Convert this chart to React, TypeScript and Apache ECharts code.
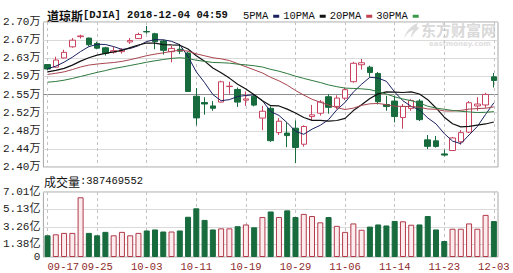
import React, { useEffect, useRef } from 'react';
import * as echarts from 'echarts';

const dates = ['09-17','09-18','09-19','09-20','09-21','09-24','09-25','09-26','09-27','09-28','10-01','10-02','10-03','10-04','10-05','10-08','10-09','10-10','10-11','10-12','10-15','10-16','10-17','10-18','10-19','10-22','10-23','10-24','10-25','10-26','10-29','10-30','10-31','11-01','11-02','11-05','11-06','11-07','11-08','11-09','11-12','11-13','11-14','11-15','11-16','11-19','11-20','11-21','11-23','11-26','11-27','11-28','11-29','11-30','12-03'];

const opens = [26154,26100,26290,26520,26730,26700,26590,26500,26410,26420,26620,26690,26835,26790,26640,26420,26470,26390,25500,25370,25300,25380,25700,25640,25420,25500,25050,25250,24750,24740,24840,24510,25080,25150,25490,25290,25460,25800,26150,26100,25970,25330,25400,25060,25250,25400,24600,24580,24310,24380,24560,24760,25300,25320,25900];
const closes = [26062,26247,26406,26657,26744,26562,26492,26385,26440,26458,26651,26774,26828,26627,26447,26487,26431,25599,25053,25340,25251,25798,25707,25379,25444,25317,25191,24583,24985,24688,24443,24875,25116,25381,25271,25462,25635,26180,26191,25989,25387,25287,25081,25289,25413,25017,24466,24465,24286,24640,24749,25366,25339,25538,25826];
const lows = [26040,26090,26280,26500,26690,26530,26470,26340,26380,26380,26580,26680,26790,26470,26360,26200,26370,25598,24900,25120,25200,25370,25550,25280,25300,25290,24800,24560,24700,24450,24120,24460,25000,25100,25140,25230,25420,25780,26050,25900,25330,25200,24960,24830,25200,24990,24410,24440,24260,24370,24500,24740,25200,25260,25680];
const highs = [26160,26316,26460,26700,26770,26710,26625,26520,26520,26490,26700,26810,26950,26810,26670,26540,26580,26420,25670,25480,25400,25820,25800,25680,25600,25530,25300,25290,25050,24960,25000,24900,25320,25420,25540,25520,25680,26210,26270,26130,26000,25510,25510,25340,25440,25440,24700,24680,24400,24660,24800,25400,25480,25570,25980];

const ma5 = [26066,26121,26203,26305,26423,26523,26572,26568,26525,26467,26485,26542,26630,26668,26665,26633,26564,26318,26003,25782,25535,25408,25430,25495,25516,25529,25408,25183,25104,24953,24778,24715,24821,24901,25017,25221,25373,25586,25748,25891,25876,25807,25587,25406,25291,25217,25053,24930,24729,24575,24521,24701,24876,25126,25364];
const ma10 = [26003,26033,26076,26142,26224,26295,26347,26386,26415,26445,26504,26557,26599,26596,26566,26559,26553,26474,26336,26224,26084,25986,25874,25749,25649,25532,25408,25306,25300,25234,25154,25061,25002,25002,24985,25000,25044,25204,25324,25454,25549,25590,25586,25577,25591,25547,25430,25258,25068,24933,24869,24877,24903,24928,24969];
const ma20 = [25950,25974,26003,26050,26104,26143,26165,26181,26196,26219,26254,26295,26337,26369,26395,26427,26450,26430,26375,26335,26294,26272,26237,26173,26108,26045,25980,25890,25818,25729,25619,25524,25438,25376,25317,25266,25226,25255,25312,25344,25351,25326,25294,25290,25288,25273,25237,25231,25196,25194,25209,25234,25245,25253,25280];
const ma30 = [25790,25805,25831,25867,25908,25950,25993,26029,26072,26102,26135,26168,26202,26232,26258,26281,26294,26279,26243,26221,26197,26192,26183,26162,26147,26129,26103,26055,26017,25968,25914,25868,25825,25783,25733,25697,25668,25661,25653,25637,25595,25546,25487,25443,25408,25359,25294,25256,25231,25207,25190,25176,25164,25169,25182];

const volumes = [234000000,245000000,260000000,260000000,644000000,260000000,234000000,271000000,234000000,271000000,234000000,260000000,286000000,297000000,275000000,275000000,286000000,434000000,525000000,400000000,297000000,309000000,309000000,332000000,351000000,320000000,431000000,491000000,431000000,503000000,431000000,465000000,442000000,374000000,431000000,336000000,271000000,362000000,294000000,328000000,351000000,340000000,389000000,385000000,348000000,351000000,442000000,297000000,172000000,305000000,305000000,362000000,305000000,454000000,387469552];

const priceTicks = [24040,24414,24788,25162,25536,25910,26284,26658,27032];
const volumeTicks = [0,138000000,326000000,513000000,701000000];

const MONO = "'Liberation Mono', 'DejaVu Sans Mono', 'Noto Sans CJK SC', monospace";
const CJK = "'Noto Sans CJK SC', sans-serif";
const UP = '#c9435f';
const UP_FILL = '#ffffff';
const DOWN = '#176b3d';
const VOL_UP_FILL = '#fdecee';
const VOL_UP_BORDER = '#b03a4a';

const LOGO_PATH = 'M15 0 C9 2 3 8 1 16 C4 11 7 8 11 7 C9 9 8 12 8 16 C11 10 14 7 17 5 C14 5 13 4 15 0 Z';
let logoRegistered = false;

export default function App() {
  const ref = useRef<HTMLDivElement>(null);
  useEffect(() => {
    if (!logoRegistered) {
      echarts.graphic.registerShape('logo', (echarts.graphic as any).extendPath(LOGO_PATH, {}));
      logoRegistered = true;
    }
    const chart = echarts.init(ref.current!, null, { renderer: 'svg' });
    const candleData = dates.map((_, i) => [opens[i], closes[i], lows[i], highs[i]]);
    const volData = volumes.map((v, i) => ({
      value: v,
      itemStyle: closes[i] >= opens[i]
        ? { color: VOL_UP_FILL, borderColor: VOL_UP_BORDER, borderWidth: 1 }
        : { color: DOWN, borderColor: DOWN, borderWidth: 1 },
    }));
    const priceSplit = priceTicks.map((_, i) => (i === 4 ? '#8c8c8c' : '#dadada'));
    const xSplit = { show: true, interval: 5, alignWithLabel: true, lineStyle: { color: '#c4c4c4', type: [3, 3], width: 1 } };
    chart.setOption({
      animation: false,
      backgroundColor: '#ffffff',
      title: {
        text: '{a|道琼斯}{b|[DJIA] 2018-12-04 04:59}',
        left: 42,
        top: 4,
        textStyle: {
          rich: {
            a: { fontFamily: CJK, fontSize: 12, color: '#111' },
            b: { fontFamily: MONO, fontSize: 10.5, color: '#111' },
          },
        },
      },
      legend: {
        data: ['5PMA', '10PMA', '20PMA', '30PMA'],
        left: 238,
        top: 6,
        icon: 'rect',
        itemWidth: 6,
        itemHeight: 3,
        itemGap: 4,
        align: 'right',
        selectedMode: false,
        textStyle: { fontFamily: MONO, fontSize: 10.5, color: '#111' },
      },
      graphic: [
        {
          type: 'text',
          left: 44,
          top: 175,
          style: {
            text: '{a|成交量}{b|:387469552}',
            rich: {
              a: { fontFamily: CJK, fontSize: 12, fill: '#111' },
              b: { fontFamily: MONO, fontSize: 10.5, fill: '#111' },
            },
          },
        },
        {
          type: 'logo',
          x: 403,
          y: 23,
          scaleX: 1,
          scaleY: 0.95,
          z: -1,
          style: { fill: '#dcdcdc' },
        },
        {
          type: 'text',
          left: 421,
          top: 22,
          z: -1,
          style: { text: '东方财富网', font: "bold 15px 'Noto Sans CJK SC'", fill: '#d9d9d9' },
        },
        {
          type: 'text',
          left: 429,
          top: 40,
          z: -1,
          style: { text: 'eastmoney.com', font: "bold 7px 'DejaVu Sans'", fill: '#dedede' },
        },
      ],
      grid: [
        { left: 41, top: 22, width: 457, height: 145, show: true, borderColor: '#a6a6a6', borderWidth: 1, backgroundColor: 'transparent' },
        { left: 41, top: 192, width: 457, height: 65, show: true, borderColor: '#a6a6a6', borderWidth: 1, backgroundColor: 'transparent' },
      ],
      xAxis: [
        {
          type: 'category', gridIndex: 0, data: dates, boundaryGap: true,
          axisLine: { show: false }, axisTick: { show: false, interval: 5, alignWithLabel: true },
          axisLabel: { show: false, interval: 5 },
          splitLine: xSplit,
        },
        {
          type: 'category', gridIndex: 1, data: dates, boundaryGap: true,
          axisLine: { show: false }, axisTick: { show: false, interval: 5, alignWithLabel: true },
          axisLabel: { show: true, interval: 5, color: '#8e2b2b', fontFamily: MONO, fontSize: 10.5, margin: 5, alignMinLabel: 'left' },
          splitLine: xSplit,
        },
      ],
      yAxis: [
        {
          type: 'value', gridIndex: 0, min: priceTicks[0], max: priceTicks[priceTicks.length - 1],
          axisLine: { show: false },
          axisTick: { show: false, customValues: priceTicks },
          axisLabel: {
            customValues: priceTicks,
            formatter: (v: number) => (v / 10000).toFixed(2) + '万',
            color: '#222', fontFamily: MONO, fontSize: 11, margin: 3,
          },
          splitLine: { show: true, lineStyle: { color: priceSplit, width: 1 } },
        },
        {
          type: 'value', gridIndex: 1, min: volumeTicks[0], max: volumeTicks[volumeTicks.length - 1],
          axisLine: { show: false },
          axisTick: { show: false, customValues: volumeTicks },
          axisLabel: {
            customValues: volumeTicks,
            formatter: (v: number) => (v === 0 ? '0' : (v / 1e8).toFixed(2) + '亿'),
            color: '#222', fontFamily: MONO, fontSize: 11, margin: 3,
          },
          splitLine: { show: true, lineStyle: { color: '#dadada', width: 1 } },
        },
      ],
      series: [
        {
          type: 'candlestick', name: 'K', xAxisIndex: 0, yAxisIndex: 0, data: candleData, barWidth: 6,
          itemStyle: { color: UP_FILL, color0: DOWN, borderColor: UP, borderColor0: DOWN, borderWidth: 1 },
          z: 2,
        },
        { type: 'line', name: '5PMA', xAxisIndex: 0, yAxisIndex: 0, data: ma5, symbol: 'none', lineStyle: { color: '#1b2060', width: 1 }, itemStyle: { color: '#1b2060' }, z: 3 },
        { type: 'line', name: '10PMA', xAxisIndex: 0, yAxisIndex: 0, data: ma10, symbol: 'none', lineStyle: { color: '#111111', width: 1.2 }, itemStyle: { color: '#111111' }, z: 3 },
        { type: 'line', name: '20PMA', xAxisIndex: 0, yAxisIndex: 0, data: ma20, symbol: 'none', lineStyle: { color: '#a8454f', width: 1 }, itemStyle: { color: '#c2404e' }, z: 3 },
        { type: 'line', name: '30PMA', xAxisIndex: 0, yAxisIndex: 0, data: ma30, symbol: 'none', lineStyle: { color: '#2e7a3e', width: 1 }, itemStyle: { color: '#3a9a4a' }, z: 3 },
        { type: 'bar', name: 'VOL', xAxisIndex: 1, yAxisIndex: 1, data: volData, barWidth: 6 },
      ],
    });
    return () => chart.dispose();
  }, []);
  return <div ref={ref} style={{ position: 'absolute', left: 0, top: 0, width: 513, height: 273 }} />;
}
